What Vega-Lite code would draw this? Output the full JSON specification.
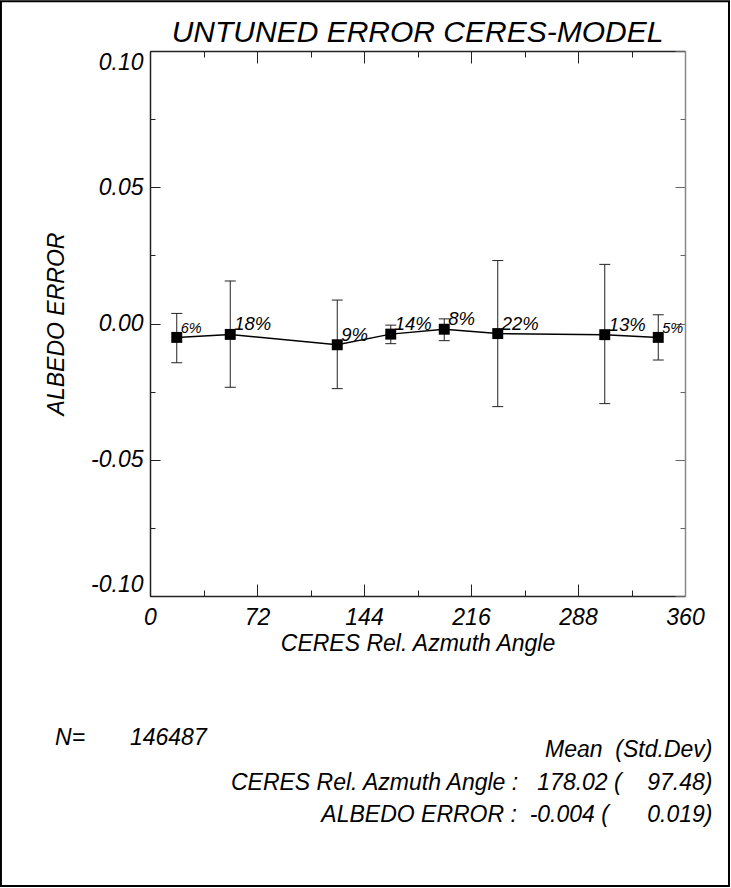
{
  "$schema": "https://vega.github.io/schema/vega-lite/v6.json",
  "width": 535,
  "height": 545,
  "autosize": "none",
  "padding": {"left": 150, "top": 51, "right": 46, "bottom": 292},
  "background": "white",
  "title": {
    "text": "UNTUNED ERROR CERES-MODEL",
    "font": "Liberation Sans",
    "fontSize": 30,
    "fontStyle": "italic",
    "fontWeight": "normal",
    "color": "black",
    "frame": "group",
    "anchor": "middle",
    "baseline": "alphabetic",
    "offset": -72
  },
  "config": {
    "font": "Liberation Sans",
    "view": {"stroke": null},
    "axis": {
      "grid": false,
      "labelFont": "Liberation Sans",
      "labelFontSize": 23,
      "labelFontStyle": "italic",
      "labelColor": "black",
      "titleFont": "Liberation Sans",
      "titleFontSize": 23,
      "titleFontStyle": "italic",
      "titleFontWeight": "normal",
      "titleColor": "black",
      "tickColor": "#222",
      "domainColor": "#222",
      "domainWidth": 1.5,
      "tickWidth": 1
    }
  },
  "datasets": {
    "bins": [
      {"az": 18, "err": -0.0051, "lo": -0.0144, "hi": 0.0037, "label": "6%", "pct": 6},
      {"az": 54, "err": -0.0040, "lo": -0.0234, "hi": 0.0156, "label": "18%", "pct": 18},
      {"az": 126, "err": -0.0078, "lo": -0.0239, "hi": 0.0086, "label": "9%", "pct": 9},
      {"az": 162, "err": -0.0039, "lo": -0.0074, "hi": -0.0006, "label": "14%", "pct": 14},
      {"az": 198, "err": -0.0021, "lo": -0.0063, "hi": 0.0017, "label": "8%", "pct": 8},
      {"az": 234, "err": -0.0037, "lo": -0.0305, "hi": 0.0231, "label": "22%", "pct": 22},
      {"az": 306, "err": -0.0041, "lo": -0.0294, "hi": 0.0217, "label": "13%", "pct": 13},
      {"az": 342, "err": -0.0051, "lo": -0.0134, "hi": 0.0032, "label": "5%", "pct": 5}
    ],
    "notesLeft": [
      {"tx": -63.9, "ty": -0.1547, "text": "N="},
      {"tx": -13.5, "ty": -0.1547, "text": "146487"}
    ],
    "notesRight": [
      {"tx": 378.5, "ty": -0.1591, "text": "Mean\u00a0\u00a0(Std.Dev)"},
      {"tx": 378.5, "ty": -0.1712, "text": "CERES Rel. Azmuth Angle :\u00a0\u00a0\u00a0178.02 (\u00a0\u00a0\u00a0\u00a097.48)"},
      {"tx": 378.5, "ty": -0.1829, "text": "ALBEDO ERROR :\u00a0\u00a0-0.004 (\u00a0\u00a0\u00a0\u00a0\u00a0\u00a00.019)"}
    ],
    "frame": [
      {"x1": -100.3, "x2": 389.6, "y1": 0.1183, "y2": -0.2064}
    ]
  },
  "resolve": {"axis": {"x": "independent", "y": "independent"}},
  "layer": [
    {
      "data": {"name": "bins"},
      "mark": {"type": "rule", "color": "#222", "strokeWidth": 1},
      "encoding": {
        "x": {"field": "az", "type": "quantitative", "scale": {"domain": [0, 360], "nice": false, "zero": false},
          "axis": {"orient": "top", "values": [0, 72, 144, 216, 288, 360], "tickSize": -12, "labels": false, "title": null, "domain": true}},
        "y": {"field": "lo", "type": "quantitative", "scale": {"domain": [-0.1, 0.1], "nice": false, "zero": false},
          "axis": {"orient": "right", "values": [-0.1, -0.05, 0, 0.05, 0.1], "tickSize": -10, "labels": false, "title": null, "domain": true, "domainColor": "#888", "tickColor": "#666"}},
        "y2": {"field": "hi"}
      }
    },
    {
      "data": {"name": "bins"},
      "mark": {"type": "tick", "orient": "horizontal", "size": 11, "thickness": 1, "color": "#222", "opacity": 1},
      "encoding": {
        "x": {"field": "az", "type": "quantitative", "scale": {"domain": [0, 360], "nice": false, "zero": false},
          "axis": {"orient": "bottom", "values": [36, 108, 180, 252, 324], "tickSize": -6, "labels": false, "title": null, "domain": false}},
        "y": {"field": "lo", "type": "quantitative", "scale": {"domain": [-0.1, 0.1], "nice": false, "zero": false},
          "axis": {"orient": "left", "values": [-0.075, -0.025, 0.025, 0.075], "tickSize": -5, "labels": false, "title": null, "domain": false}}
      }
    },
    {
      "data": {"name": "bins"},
      "mark": {"type": "tick", "orient": "horizontal", "size": 11, "thickness": 1, "color": "#222", "opacity": 1},
      "encoding": {
        "x": {"field": "az", "type": "quantitative", "scale": {"domain": [0, 360], "nice": false, "zero": false},
          "axis": {"orient": "top", "values": [36, 108, 180, 252, 324], "tickSize": -6, "labels": false, "title": null, "domain": false}},
        "y": {"field": "hi", "type": "quantitative", "scale": {"domain": [-0.1, 0.1], "nice": false, "zero": false},
          "axis": {"orient": "right", "values": [-0.075, -0.025, 0.025, 0.075], "tickSize": -5, "labels": false, "title": null, "domain": false, "tickColor": "#666"}}
      }
    },
    {
      "data": {"name": "bins"},
      "mark": {"type": "line", "color": "black", "strokeWidth": 1.5},
      "encoding": {
        "x": {"field": "az", "type": "quantitative", "scale": {"domain": [0, 360], "nice": false, "zero": false},
          "axis": {"orient": "bottom", "values": [0, 72, 144, 216, 288, 360], "tickSize": -12, "labelPadding": 22, "labelFlush": false, "title": "CERES Rel. Azmuth Angle", "titlePadding": 3, "domain": true}},
        "y": {"field": "err", "type": "quantitative", "scale": {"domain": [-0.1, 0.1], "nice": false, "zero": false},
          "axis": {"orient": "left", "values": [-0.1, -0.05, 0, 0.05, 0.1], "tickSize": -10, "labelPadding": 17, "labelFlush": true, "labelExpr": "replace(format(datum.value, '.2f'), '\u2212', '-')", "title": "ALBEDO ERROR", "titlePadding": 22, "domain": true}}
      }
    },
    {
      "data": {"name": "bins"},
      "mark": {"type": "square", "size": 120, "color": "black", "filled": true, "opacity": 1},
      "encoding": {
        "x": {"field": "az", "type": "quantitative", "scale": {"domain": [0, 360], "nice": false, "zero": false}, "axis": null},
        "y": {"field": "err", "type": "quantitative", "scale": {"domain": [-0.1, 0.1], "nice": false, "zero": false}, "axis": null}
      }
    },
    {
      "data": {"name": "bins"},
      "mark": {"type": "text", "align": "left", "baseline": "alphabetic", "dx": 4, "dy": -4, "font": "Liberation Sans", "fontStyle": "italic", "color": "black"},
      "encoding": {
        "x": {"field": "az", "type": "quantitative", "scale": {"domain": [0, 360], "nice": false, "zero": false}, "axis": null},
        "y": {"field": "err", "type": "quantitative", "scale": {"domain": [-0.1, 0.1], "nice": false, "zero": false}, "axis": null},
        "text": {"field": "label"},
        "size": {"field": "pct", "type": "quantitative", "scale": {"type": "threshold", "domain": [7], "range": [14.5, 18.5]}, "legend": null}
      }
    },
    {
      "data": {"name": "notesLeft"},
      "mark": {"type": "text", "align": "left", "baseline": "alphabetic", "font": "Liberation Sans", "fontStyle": "italic", "fontSize": 23, "color": "black"},
      "encoding": {
        "x": {"field": "tx", "type": "quantitative", "scale": {"domain": [0, 360], "nice": false, "zero": false}, "axis": null},
        "y": {"field": "ty", "type": "quantitative", "scale": {"domain": [-0.1, 0.1], "nice": false, "zero": false}, "axis": null},
        "text": {"field": "text"}
      }
    },
    {
      "data": {"name": "notesRight"},
      "mark": {"type": "text", "align": "right", "baseline": "alphabetic", "font": "Liberation Sans", "fontStyle": "italic", "fontSize": 23, "color": "black"},
      "encoding": {
        "x": {"field": "tx", "type": "quantitative", "scale": {"domain": [0, 360], "nice": false, "zero": false}, "axis": null},
        "y": {"field": "ty", "type": "quantitative", "scale": {"domain": [-0.1, 0.1], "nice": false, "zero": false}, "axis": null},
        "text": {"field": "text"}
      }
    },
    {
      "data": {"name": "frame"},
      "mark": {"type": "rect", "fill": null, "fillOpacity": 0, "stroke": "black", "strokeWidth": 2},
      "encoding": {
        "x": {"field": "x1", "type": "quantitative", "scale": {"domain": [0, 360], "nice": false, "zero": false}, "axis": null},
        "x2": {"field": "x2"},
        "y": {"field": "y1", "type": "quantitative", "scale": {"domain": [-0.1, 0.1], "nice": false, "zero": false}, "axis": null},
        "y2": {"field": "y2"}
      }
    }
  ]
}
